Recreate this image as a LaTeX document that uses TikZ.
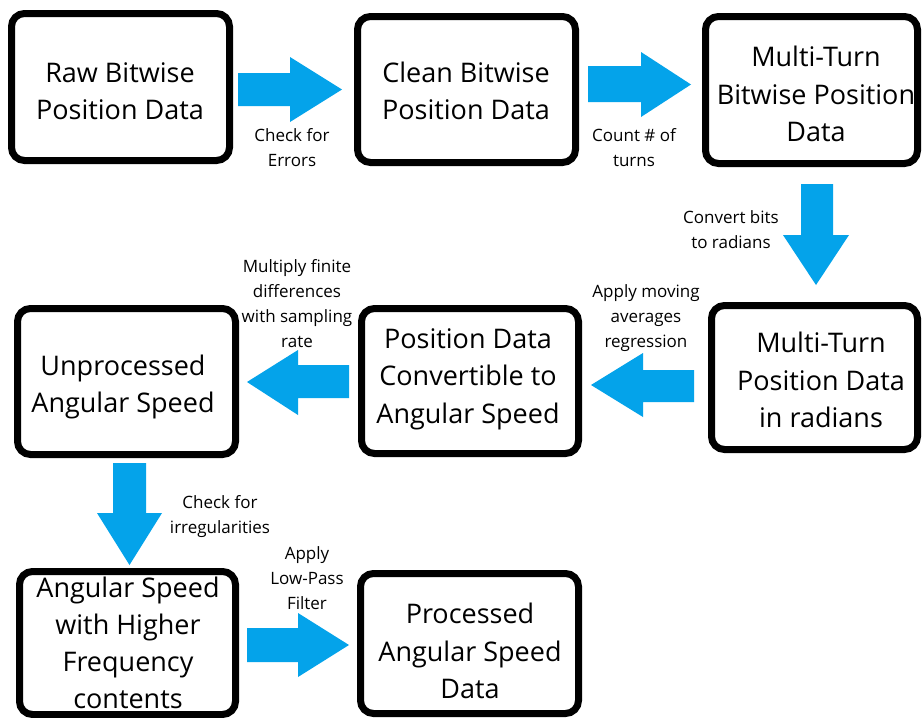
\documentclass[tikz,border=0pt]{standalone}
\usepackage{fontspec}
\setmainfont{Open Sans}
\definecolor{arrowblue}{RGB}{4,163,234}
\begin{document}
\begin{tikzpicture}[x=1pt,y=-1pt,
  box/.style={draw=black,line width=7pt,rounded corners=13pt,fill=white,inner sep=0pt},
  boxtext/.style={align=center,inner sep=0pt,font=\fontsize{27}{37.5}\selectfont},
  lbl/.style={align=center,inner sep=0pt,font=\fontsize{17}{25}\selectfont},
  blockarrow/.style={fill=arrowblue,draw=none}]
\useasboundingbox[fill=white] (0,0) rectangle (922,718);
% boxes
\node[box,minimum width=218pt,minimum height=147pt] (b1) at (120.5,87) {};
\node[box,minimum width=218pt,minimum height=146pt] (b2) at (466.5,89.5) {};
\node[box,minimum width=212pt,minimum height=147pt] (b3) at (811.5,90) {};
\node[box,minimum width=206pt,minimum height=144pt] (b4) at (814.5,377.5) {};
\node[box,minimum width=217pt,minimum height=145pt] (b5) at (470,381) {};
\node[box,minimum width=218pt,minimum height=146pt] (b6) at (126.5,381.5) {};
\node[box,minimum width=216pt,minimum height=143pt] (b7) at (127.5,643) {};
\node[box,minimum width=218pt,minimum height=140pt] (b8) at (469.5,643.5) {};
% box texts
\node[boxtext] (t1) at (120,91) {Raw Bitwise\\Position Data};
\node[boxtext] (t2) at (466,91) {Clean Bitwise\\Position Data};
\node[boxtext] (t3) at (816,94) {Multi-Turn\\Bitwise Position\\Data};
\node[boxtext] (t4) at (821,380) {Multi-Turn\\Position Data\\in radians};
\node[boxtext] (t5) at (468,379) {Position Data\\Convertible to\\Angular Speed};
\node[boxtext] (t6) at (123,387) {Unprocessed\\Angular Speed};
\node[boxtext,font=\fontsize{27}{37}\selectfont] (t7) at (128,643) {Angular Speed\\with Higher\\Frequency\\contents};
\node[boxtext] (t8) at (470,651) {Processed\\Angular Speed\\Data};
% block arrows
% A1 right b1 -> b2
\fill[blockarrow] (238,73) -- (290,73) -- (290,57) -- (342,89.5) -- (290,122) -- (290,106) -- (238,106) -- cycle;
% A2 right b2 -> b3
\fill[blockarrow] (588,66) -- (641,66) -- (641,52) -- (691,84.5) -- (641,117) -- (641,102) -- (588,102) -- cycle;
% A3 down b3 -> b4
\fill[blockarrow] (801,184) -- (833,184) -- (833,235) -- (849,235) -- (816,285) -- (783,235) -- (801,235) -- cycle;
% A4 left b4 -> b5
\fill[blockarrow] (694,370) -- (643,370) -- (643,353) -- (591,385) -- (643,417) -- (643,402) -- (694,402) -- cycle;
% A5 left b5 -> b6
\fill[blockarrow] (349,365) -- (298,365) -- (298,350) -- (247,382) -- (298,415) -- (298,398) -- (349,398) -- cycle;
% A6 down b6 -> b7
\fill[blockarrow] (113,463) -- (146,463) -- (146,513) -- (162,513) -- (129.5,565) -- (97,513) -- (113,513) -- cycle;
% A7 right b7 -> b8
\fill[blockarrow] (247,628) -- (298,628) -- (298,613) -- (349,645) -- (298,677) -- (298,662) -- (247,662) -- cycle;
% labels
\node[lbl] (l1) at (292,148) {Check for\\Errors};
\node[lbl] (l2) at (634,148) {Count \# of\\turns};
\node[lbl] (l3) at (731,230) {Convert bits\\to radians};
\node[lbl] (l4) at (646,318) {Apply moving\\averages\\regression};
\node[lbl] (l5) at (297,304) {Multiply finite\\differences\\with sampling\\rate};
\node[lbl] (l6) at (220,517) {Check for\\irregularities};
\node[lbl] (l7) at (307,578) {Apply\\Low-Pass\\Filter};
\end{tikzpicture}
\end{document}
